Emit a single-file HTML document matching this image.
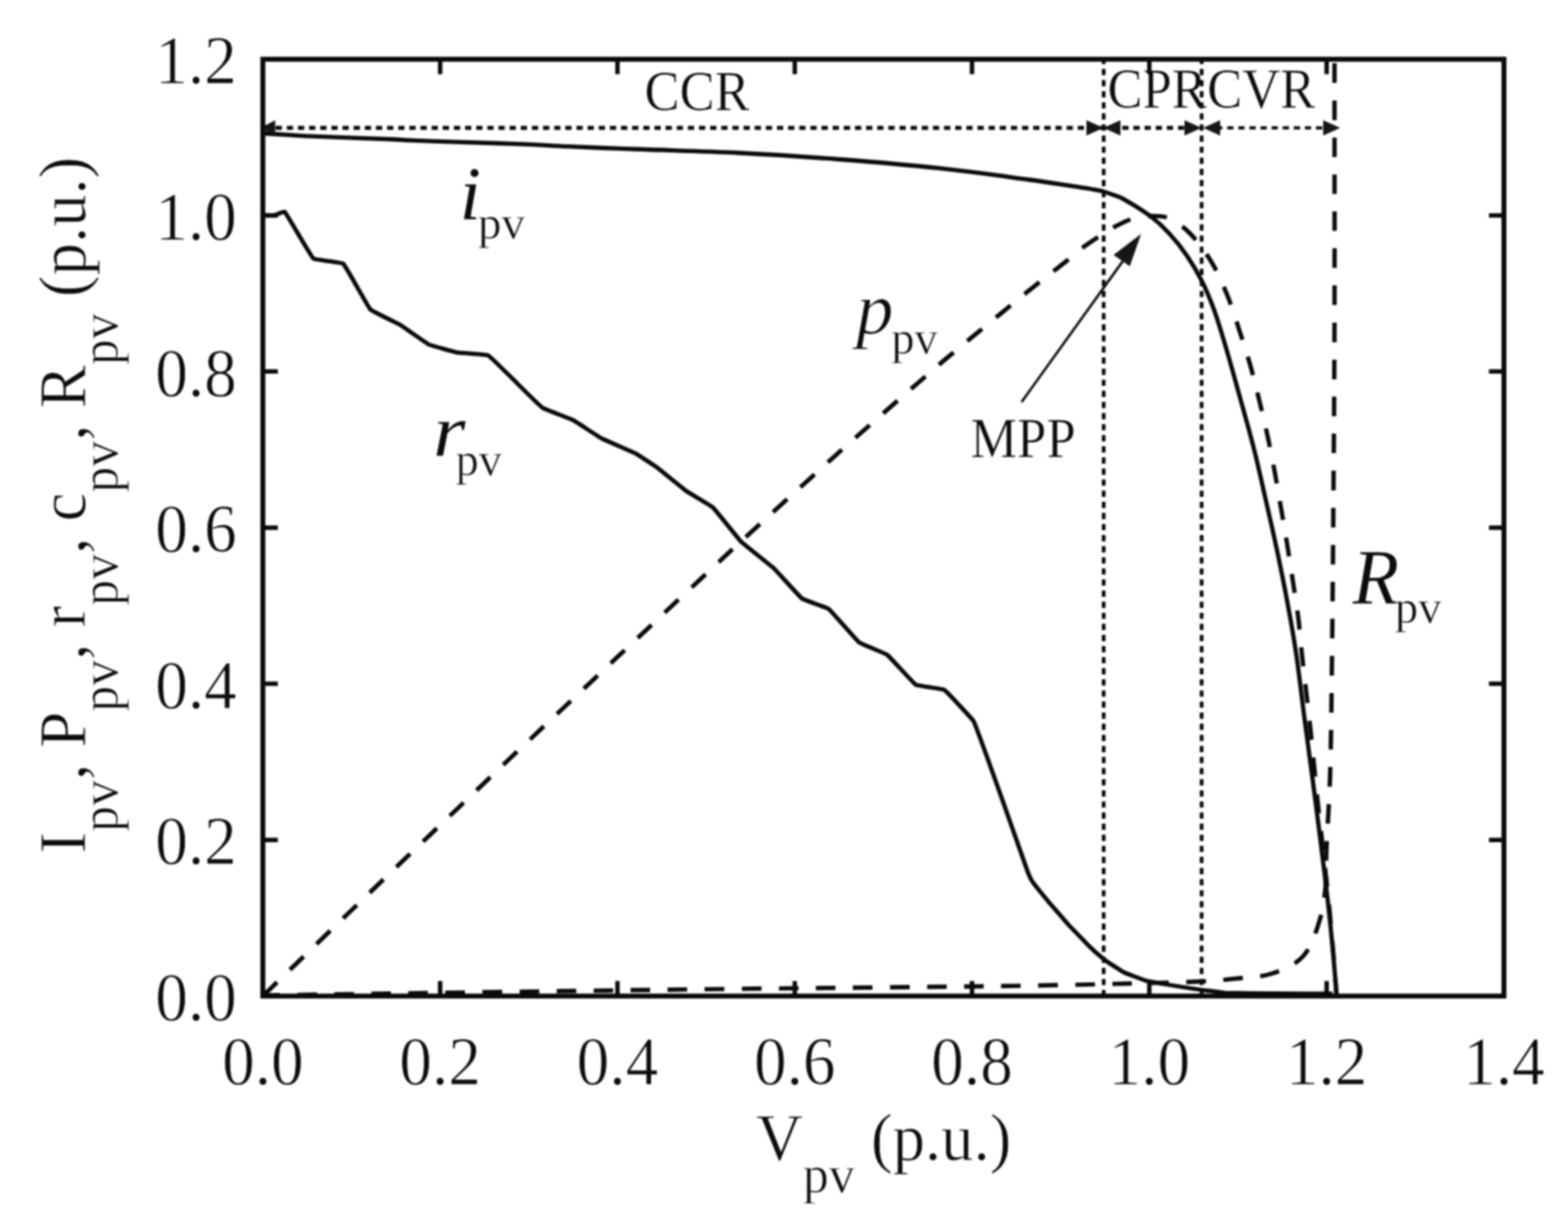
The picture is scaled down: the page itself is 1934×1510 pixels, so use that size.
<!DOCTYPE html>
<html lang="en">
<head>
<meta charset="utf-8">
<title>PV characteristic curves</title>
<style>
html,body{margin:0;padding:0;background:#fff;}
body{width:1934px;height:1510px;overflow:hidden;}
svg{display:block;}
text{font-family:"Liberation Serif",serif;fill:#0c0c0c;}
.it{font-style:italic;}
</style>
</head>
<body>
<svg width="1934" height="1510" viewBox="0 0 1934 1510">
<defs><filter id="soft" x="0" y="0" width="1934" height="1510" filterUnits="userSpaceOnUse" color-interpolation-filters="sRGB"><feGaussianBlur stdDeviation="0.9"/></filter></defs>
<rect width="1934" height="1510" fill="#fff"/>
<g filter="url(#soft)">
<rect width="1934" height="1510" fill="#fff"/>

<text transform="translate(324.2 1337.5) scale(1 1.06)" font-size="80.5" text-anchor="middle" stroke="#fff" stroke-width="0.9">0.0</text>
<text transform="translate(542.9 1337.5) scale(1 1.06)" font-size="80.5" text-anchor="middle" stroke="#fff" stroke-width="0.9">0.2</text>
<text transform="translate(761.6 1337.5) scale(1 1.06)" font-size="80.5" text-anchor="middle" stroke="#fff" stroke-width="0.9">0.4</text>
<text transform="translate(980.3 1337.5) scale(1 1.06)" font-size="80.5" text-anchor="middle" stroke="#fff" stroke-width="0.9">0.6</text>
<text transform="translate(1198.9 1337.5) scale(1 1.06)" font-size="80.5" text-anchor="middle" stroke="#fff" stroke-width="0.9">0.8</text>
<text transform="translate(1417.6 1337.5) scale(1 1.06)" font-size="80.5" text-anchor="middle" stroke="#fff" stroke-width="0.9">1.0</text>
<text transform="translate(1636.3 1337.5) scale(1 1.06)" font-size="80.5" text-anchor="middle" stroke="#fff" stroke-width="0.9">1.2</text>
<text transform="translate(1855.0 1337.5) scale(1 1.06)" font-size="80.5" text-anchor="middle" stroke="#fff" stroke-width="0.9">1.4</text>
<text transform="translate(292.0 1259.0) scale(1 1.06)" font-size="80.5" text-anchor="end" stroke="#fff" stroke-width="0.9">0.0</text>
<text transform="translate(292.0 1066.4) scale(1 1.06)" font-size="80.5" text-anchor="end" stroke="#fff" stroke-width="0.9">0.2</text>
<text transform="translate(292.0 873.8) scale(1 1.06)" font-size="80.5" text-anchor="end" stroke="#fff" stroke-width="0.9">0.4</text>
<text transform="translate(292.0 681.1) scale(1 1.06)" font-size="80.5" text-anchor="end" stroke="#fff" stroke-width="0.9">0.6</text>
<text transform="translate(292.0 488.5) scale(1 1.06)" font-size="80.5" text-anchor="end" stroke="#fff" stroke-width="0.9">0.8</text>
<text transform="translate(292.0 295.9) scale(1 1.06)" font-size="80.5" text-anchor="end" stroke="#fff" stroke-width="0.9">1.0</text>
<text transform="translate(292.0 103.3) scale(1 1.06)" font-size="80.5" text-anchor="end" stroke="#fff" stroke-width="0.9">1.2</text>
<text transform="translate(932.5 1431.0) scale(1 1.03)" font-size="80" stroke="#fff" stroke-width="0.8">V<tspan font-size="64" dy="39">pv</tspan><tspan dy="-39"> (p.u.)</tspan></text>
<text transform="translate(105.0 1053.0) rotate(-90) scale(1 1.03)" font-size="80" stroke="#fff" stroke-width="0.8">I<tspan font-size="64" dy="39">pv</tspan><tspan dy="-39">, P</tspan><tspan font-size="64" dy="39">pv</tspan><tspan dy="-39">, r</tspan><tspan font-size="64" dy="39">pv</tspan><tspan dy="-39">, c</tspan><tspan font-size="64" dy="39">pv</tspan><tspan dy="-39">, R</tspan><tspan font-size="64" dy="39">pv</tspan><tspan dy="-39"> (p.u.)</tspan></text>
<text transform="translate(795.0 136.0) scale(1 1.07)" font-size="64.8" stroke="#fff" stroke-width="0.5">CCR</text>
<text transform="translate(1366.0 133.0) scale(1 1.07)" font-size="64.8" stroke="#fff" stroke-width="0.5">CPR</text>
<text transform="translate(1489.0 133.0) scale(1 1.07)" font-size="64.8" stroke="#fff" stroke-width="0.5">CVR</text>
<text transform="translate(1197.0 564.0) scale(1 1.07)" font-size="64.8" stroke="#fff" stroke-width="0.5">MPP</text>
<text transform="translate(567.0 269.7)" font-size="94" class="it">i</text>
<text transform="translate(589.4 294.0)" font-size="58" stroke="#fff" stroke-width="0.7">pv</text>
<text transform="translate(534.0 561.5) scale(1.1 0.96)" font-size="94" class="it" stroke="#fff" stroke-width="0.3">r</text>
<text transform="translate(561.9 586.0)" font-size="57" stroke="#fff" stroke-width="0.7">pv</text>
<text transform="translate(1055.9 412.2)" font-size="92" class="it" stroke="#fff" stroke-width="1">p</text>
<text transform="translate(1099.4 435.9)" font-size="57" stroke="#fff" stroke-width="0.7">pv</text>
<text transform="translate(1668.3 745.2) scale(1 1.04)" font-size="94" class="it" stroke="#fff" stroke-width="0.3">R</text>
<text transform="translate(1720.5 768.2)" font-size="57.5" stroke="#fff" stroke-width="0.7">pv</text>
<g fill="none" stroke="#0a0a0a">
<path d="M1361.3 73.1 V1228.8" stroke-width="4.6" stroke-dasharray="7.7 5.99" stroke-dashoffset="1.7"/>
<path d="M1482.1 73.1 V1228.8" stroke-width="4.6" stroke-dasharray="7.7 5.99" stroke-dashoffset="1.7"/>
<path d="M326.30 157.8 H1482" stroke-width="5" stroke-dasharray="7.7 6.04"/>
<path d="M1500 157.8 H1636" stroke-width="4" stroke-dasharray="7.7 5.99" stroke-dashoffset="0"/>
<path d="M324.0 164.5 C344.6 165.7 364.6 167.3 385.2 168.2 C419.6 169.8 453.1 170.6 487.5 172.0 C493.8 172.3 499.9 172.9 506.2 173.2 C524.9 174.0 543.2 174.6 562.0 175.2 C590.2 176.1 617.7 176.7 645.8 177.8 C664.2 178.5 682.2 179.9 700.6 180.7 C728.6 182.0 756.0 183.0 784.0 184.0 C826.1 185.6 867.2 186.4 909.2 188.5 C951.3 190.6 992.4 193.3 1034.4 196.5 C1076.5 199.7 1117.6 203.2 1159.6 207.7 C1196.1 211.6 1231.6 216.6 1268.0 221.5 C1288.9 224.3 1309.2 227.6 1330.0 230.7 C1335.0 231.5 1340.0 232.1 1345.0 233.0 C1350.1 233.9 1355.0 234.7 1360.0 236.0 C1364.1 237.1 1368.0 238.5 1372.0 240.0 C1376.7 241.7 1381.5 243.1 1385.8 245.6 C1397.4 252.2 1408.7 259.0 1419.4 267.0 C1427.5 273.1 1434.8 280.0 1441.7 287.5 C1449.8 296.3 1457.2 305.5 1464.0 315.4 C1471.0 325.6 1477.1 336.1 1482.6 347.1 C1488.4 358.6 1493.1 370.3 1497.5 382.4 C1502.6 396.5 1506.7 410.6 1511.0 425.0 C1517.5 447.0 1523.4 468.5 1529.5 490.6 C1535.3 511.6 1541.2 532.1 1546.5 553.2 C1551.8 574.1 1556.2 594.7 1561.0 615.8 C1565.8 636.8 1570.5 657.3 1575.0 678.4 C1579.4 699.4 1583.6 719.9 1587.5 741.0 C1591.5 762.5 1595.3 783.4 1598.5 805.0 C1602.3 830.5 1605.0 855.5 1608.3 881.0 C1611.6 906.3 1615.0 930.9 1618.3 956.2 C1621.6 981.4 1624.9 1006.1 1628.0 1031.3 C1631.7 1060.8 1635.3 1089.5 1638.6 1119.0 C1640.9 1140.0 1642.9 1160.6 1644.8 1181.6 C1646.2 1197.1 1647.3 1212.3 1648.6 1227.8" stroke-width="5.3" stroke-linejoin="round"/>
<path d="M324.0 265.5 C324.9 265.5 337.8 265.6 338.7 265.5 C339.5 265.4 350.5 260.6 351.1 261.2 C354.0 264.4 383.4 316.2 386.6 319.0 C388.4 320.6 421.6 323.7 423.3 325.3 C426.4 328.1 454.1 378.9 456.9 381.9 C458.7 383.8 491.7 399.7 494.0 401.0 C496.3 402.4 526.6 423.8 529.0 425.0 C531.0 426.0 561.4 434.4 563.6 434.8 C566.0 435.2 600.0 437.4 602.2 438.5 C604.9 439.9 634.8 469.9 637.0 472.0 C639.0 474.0 667.0 501.6 669.4 503.2 C671.5 504.6 704.5 517.0 706.7 518.2 C709.0 519.4 739.3 539.4 741.6 540.6 C744.2 542.0 781.4 558.1 784.0 559.4 C785.7 560.3 807.5 574.6 809.0 575.7 C811.4 577.5 844.1 604.0 846.6 605.8 C848.6 607.2 877.3 624.2 879.1 625.8 C881.7 628.2 911.7 665.9 914.2 668.4 C916.5 670.7 951.9 698.7 954.3 700.9 C956.7 703.1 986.7 736.6 989.3 738.5 C991.1 739.8 1020.2 749.7 1021.9 751.0 C1024.7 753.1 1056.6 790.1 1059.4 792.3 C1061.3 793.8 1092.6 806.5 1094.5 808.0 C1097.1 809.9 1126.8 843.1 1129.5 844.8 C1131.4 846.0 1162.7 849.9 1164.6 851.1 C1167.4 852.9 1199.4 887.0 1201.0 890.0 C1203.9 895.5 1232.9 977.1 1235.0 983.0 C1237.0 988.5 1264.0 1065.5 1266.0 1071.0 C1266.3 1071.9 1271.1 1083.7 1271.5 1084.5 C1271.9 1085.2 1278.5 1094.4 1279.0 1095.0 C1279.9 1096.1 1292.1 1111.1 1293.0 1112.2 C1294.6 1114.0 1316.4 1139.2 1318.0 1141.0 C1319.0 1142.1 1333.9 1157.4 1335.0 1158.5 C1335.9 1159.5 1349.0 1172.6 1350.0 1173.5 C1350.9 1174.3 1364.0 1185.3 1365.0 1186.0 C1366.3 1186.9 1384.6 1198.8 1386.0 1199.5 C1387.7 1200.3 1412.2 1209.5 1414.0 1210.0 C1415.7 1210.5 1440.2 1214.7 1442.0 1215.0 C1443.8 1215.3 1468.2 1219.2 1470.0 1219.5 C1472.5 1219.9 1507.5 1224.6 1510.0 1224.8 C1513.7 1225.0 1564.8 1225.6 1568.5 1225.6 C1573.2 1225.6 1638.9 1226.0 1643.6 1226.0" stroke-width="5.3" stroke-linejoin="round"/>
<path d="M324.2 1228.8 C329.6 1223.6 334.8 1218.5 340.2 1213.2 C345.6 1208.0 350.8 1202.9 356.2 1197.7 C361.6 1192.5 366.8 1187.4 372.2 1182.2 C377.6 1177.0 382.8 1171.9 388.2 1166.7 C393.6 1161.5 398.8 1156.5 404.2 1151.3 C409.6 1146.1 414.8 1141.0 420.2 1135.8 C425.6 1130.6 430.8 1125.5 436.2 1120.4 C441.6 1115.2 446.8 1110.1 452.2 1104.9 C457.6 1099.8 462.8 1094.7 468.2 1089.5 C473.6 1084.4 478.8 1079.3 484.2 1074.1 C489.6 1069.0 494.8 1064.0 500.2 1058.8 C505.6 1053.7 510.8 1048.7 516.2 1043.5 C521.6 1038.4 526.8 1033.3 532.2 1028.2 C537.6 1023.0 542.8 1018.0 548.2 1012.9 C553.6 1007.7 558.8 1002.7 564.2 997.6 C569.6 992.4 574.8 987.4 580.2 982.3 C585.6 977.1 590.8 972.1 596.2 967.0 C601.6 961.8 606.8 956.8 612.2 951.7 C617.6 946.6 622.8 941.6 628.2 936.4 C633.6 931.3 638.8 926.3 644.2 921.2 C649.6 916.1 654.8 911.2 660.2 906.1 C665.6 901.0 670.8 896.0 676.2 891.0 C681.6 885.9 686.8 881.0 692.2 875.9 C697.6 870.8 702.8 865.9 708.2 860.8 C713.6 855.8 718.8 850.8 724.2 845.7 C729.6 840.7 734.8 835.7 740.2 830.6 C745.6 825.6 750.8 820.6 756.2 815.6 C761.6 810.5 766.8 805.6 772.2 800.5 C777.6 795.5 782.8 790.6 788.2 785.5 C793.6 780.4 798.8 775.5 804.2 770.5 C809.6 765.4 814.8 760.5 820.2 755.4 C825.6 750.4 830.8 745.5 836.2 740.4 C841.6 735.4 846.8 730.5 852.2 725.5 C857.6 720.4 862.8 715.5 868.2 710.5 C873.6 705.5 878.8 700.6 884.2 695.5 C889.6 690.5 894.8 685.6 900.2 680.6 C905.6 675.6 910.8 670.8 916.2 665.8 C921.6 660.9 926.8 656.1 932.2 651.2 C937.6 646.2 942.8 641.5 948.2 636.5 C953.6 631.6 958.8 626.9 964.2 622.0 C969.6 617.1 974.8 612.3 980.2 607.4 C985.6 602.5 990.8 597.7 996.2 592.9 C1001.6 588.0 1006.8 583.2 1012.2 578.4 C1017.6 573.5 1022.8 568.7 1028.2 563.9 C1033.6 559.1 1038.8 554.4 1044.2 549.6 C1049.6 544.9 1054.8 540.2 1060.2 535.5 C1065.6 530.8 1070.8 526.1 1076.2 521.4 C1081.6 516.7 1086.8 512.1 1092.2 507.4 C1097.6 502.7 1102.8 498.1 1108.2 493.4 C1113.6 488.7 1118.8 484.1 1124.2 479.4 C1129.6 474.7 1134.8 470.2 1140.2 465.5 C1145.6 460.8 1150.8 456.2 1156.2 451.6 C1161.5 447.0 1166.8 442.6 1172.2 438.1 C1177.6 433.7 1182.8 429.3 1188.2 424.8 C1193.6 420.4 1198.8 416.0 1204.2 411.6 C1209.6 407.1 1214.8 402.8 1220.2 398.4 C1225.6 394.0 1230.8 389.7 1236.2 385.3 C1241.6 380.9 1246.8 376.6 1252.2 372.2 C1257.6 367.8 1262.8 363.5 1268.2 359.2 C1273.5 354.9 1278.8 350.8 1284.2 346.5 C1289.6 342.3 1294.8 338.2 1300.2 333.9 C1305.6 329.7 1310.9 325.7 1316.2 321.4 C1322.5 316.4 1328.3 311.0 1334.7 306.1 C1341.3 301.1 1348.2 296.7 1355.1 292.1 C1361.0 288.2 1366.6 284.4 1372.8 281.0 C1379.8 277.2 1386.6 273.2 1394.2 270.7 C1401.8 268.2 1409.6 266.8 1417.5 266.5 C1425.4 266.2 1433.5 265.8 1440.8 268.9 C1450.8 273.1 1459.7 279.7 1467.3 287.5 C1477.9 298.3 1486.5 310.5 1494.3 323.4 C1502.2 336.4 1508.0 350.2 1513.8 364.3 C1519.6 378.5 1523.9 393.0 1528.7 407.6 C1533.5 422.2 1538.1 436.5 1542.3 451.3 C1546.4 465.8 1549.8 480.1 1553.4 494.7 C1557.1 509.7 1560.6 524.4 1563.8 539.5 C1567.0 554.3 1569.7 568.7 1572.5 583.6 C1575.4 599.0 1577.8 614.1 1580.5 629.6 C1583.1 644.5 1585.6 659.0 1588.0 673.9 C1590.5 689.1 1592.7 704.0 1595.0 719.2 C1597.2 734.1 1599.7 748.6 1601.5 763.5 C1603.4 779.1 1604.4 794.3 1606.1 809.9 C1607.8 825.4 1609.6 840.5 1611.4 856.0 C1613.1 870.9 1614.8 885.5 1616.4 900.4 C1618.0 915.8 1619.5 930.9 1621.0 946.4 C1622.5 961.5 1623.9 976.2 1625.5 991.3 C1626.9 1004.6 1628.5 1017.7 1630.0 1031.0 C1633.2 1060.6 1636.6 1089.4 1639.5 1119.0 C1641.6 1140.0 1643.2 1160.6 1645.0 1181.6 C1646.3 1197.1 1647.4 1212.3 1648.6 1227.8" stroke-width="5.4" stroke-dasharray="23.5 22.11" stroke-dashoffset="-1"/>
<path d="M1646.0 76.0 C1646.0 184.9 1646.2 291.1 1646.0 400.0 C1645.8 467.2 1645.3 532.8 1644.8 600.0 C1644.2 674.3 1643.7 746.7 1642.8 821.0 C1642.2 867.3 1641.9 912.4 1640.5 958.7 C1639.6 989.4 1637.2 1019.3 1636.0 1050.0 C1635.4 1064.7 1636.5 1079.2 1635.0 1093.8 C1633.5 1108.6 1631.6 1123.3 1627.0 1137.5 C1622.1 1152.5 1617.7 1168.4 1607.0 1180.0 C1596.9 1191.0 1582.2 1196.7 1568.0 1201.3 C1553.1 1206.1 1537.4 1205.8 1521.8 1207.5 C1508.5 1209.0 1495.4 1210.3 1482.0 1210.8 C1418.5 1213.0 1356.5 1214.3 1293.0 1215.5 C1228.2 1216.7 1164.8 1217.3 1100.0 1218.0 C1032.8 1218.8 967.2 1219.2 900.0 1220.0 C799.2 1221.2 700.8 1222.6 600.0 1224.0 C507.3 1225.3 416.7 1226.7 324.0 1228.0" stroke-width="5.4" stroke-dasharray="24.2 21.5" stroke-dashoffset="-2"/>
<path d="M1260.0 496.0 L1385.0 322.0" stroke-width="3"/>
</g>
<g fill="#161616">
<path d="M1407.5 288.5 L1373.5 314.5 L1393.5 328.5 Z"/>
<path d="M321.5 157.8 L339.5 148.3 L339.5 167.3 Z"/>
<path d="M1361.0 157.8 L1340.0 148.3 L1340.0 167.3 Z"/>
<path d="M1361.0 157.8 L1382.0 148.3 L1382.0 167.3 Z"/>
<path d="M1482.0 157.8 L1461.0 148.3 L1461.0 167.3 Z"/>
<path d="M1484.0 157.8 L1505.0 148.3 L1505.0 167.3 Z"/>
<path d="M1653.0 157.8 L1632.0 148.3 L1632.0 167.3 Z"/>
</g>
<g fill="none" stroke="#0a0a0a">
<rect x="324.2" y="73.1" width="1530.8" height="1155.7" stroke-width="6.1"/>
<path d="M542.9 73.1 v18.5 M542.9 1228.8 v-18.5 M761.6 73.1 v18.5 M761.6 1228.8 v-18.5 M980.3 73.1 v18.5 M980.3 1228.8 v-18.5 M1198.9 73.1 v18.5 M1198.9 1228.8 v-18.5 M1417.6 73.1 v18.5 M1417.6 1228.8 v-18.5 M1636.3 73.1 v18.5 M1636.3 1228.8 v-18.5 M324.2 1036.2 h18.5 M1855.0 1036.2 h-18.5 M324.2 843.6 h18.5 M1855.0 843.6 h-18.5 M324.2 650.9 h18.5 M1855.0 650.9 h-18.5 M324.2 458.3 h18.5 M1855.0 458.3 h-18.5 M324.2 265.7 h18.5 M1855.0 265.7 h-18.5" stroke-width="5.5"/>
</g>
</g>
</svg>
</body>
</html>
